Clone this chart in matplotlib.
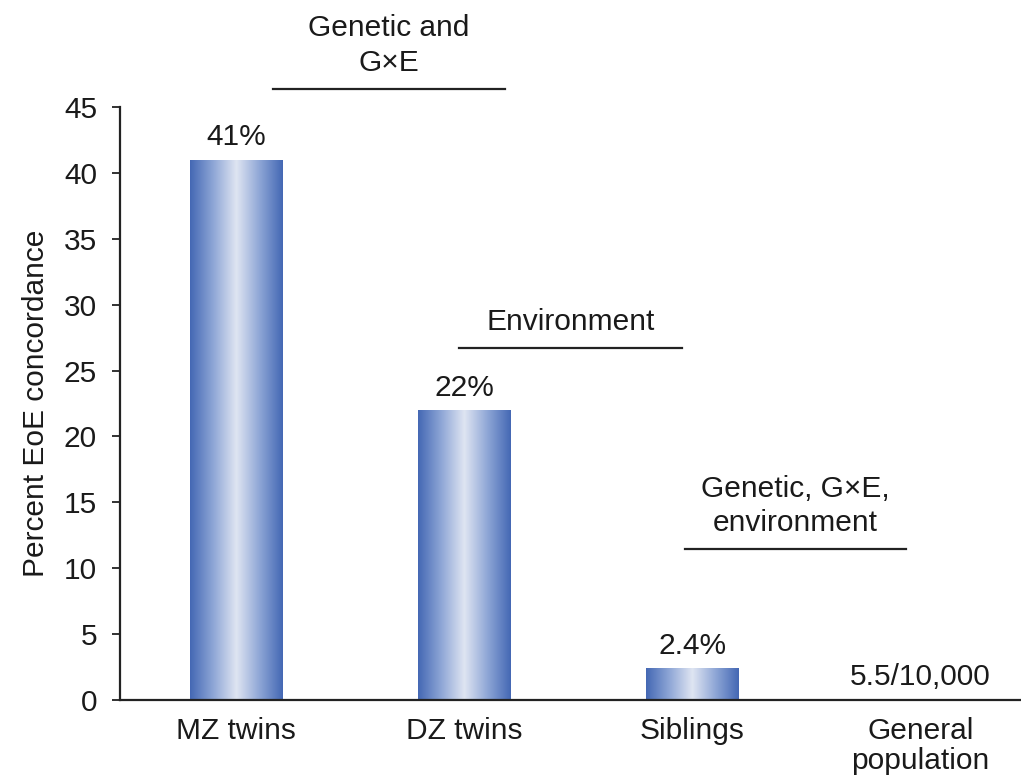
import numpy as np
import matplotlib
matplotlib.use("Agg")
import matplotlib.pyplot as plt
from matplotlib.colors import LinearSegmentedColormap

plt.rcParams['font.family'] = ['Liberation Sans', 'DejaVu Sans']

categories = ["MZ twins", "DZ twins", "Siblings", "General\npopulation"]
values = [41, 22, 2.4, 0.055]
value_labels = ["41%", "22%", "2.4%", "5.5/10,000"]
yticks = [0, 5, 10, 15, 20, 25, 30, 35, 40, 45]

brackets = [
    ("Genetic and\nG\u00d7E", 0.16, 1.18, 46.4),
    ("Environment", 0.975, 1.955, 26.7),
    ("Genetic, G\u00d7E,\nenvironment", 1.965, 2.935, 11.45),
]

FS = 21.5
TXT = "#1a1a1a"

fig = plt.figure(figsize=(10.21, 7.81), dpi=100)
ax = fig.add_axes([0.1175, 0.1037, 0.8825, 0.7593])

x = np.arange(len(categories))
width = 0.405

# cylinder-style horizontal gradient for the bars
cmap = LinearSegmentedColormap.from_list(
    "cyl", ["#4468b4", "#8ea6d6", "#dfe5f2", "#8ea6d6", "#4468b4"])
grad = np.linspace(0, 1, 256).reshape(1, -1)

for xi, v in zip(x, values):
    if v < 0.5:
        continue
    bar = ax.bar(xi, v, width=width, color="none", edgecolor="none", zorder=2)[0]
    im = ax.imshow(grad, cmap=cmap, aspect="auto",
                   extent=(xi - width / 2, xi + width / 2, 0, v), zorder=2)
    im.set_clip_path(bar)

for xi, v, lab in zip(x, values, value_labels):
    ax.text(xi, v + 0.65, lab, ha="center", va="bottom", fontsize=FS, color=TXT)

for text, x0, x1, y in brackets:
    ax.plot([x0, x1], [y, y], color="#222222", lw=1.6, clip_on=False)
    ax.text((x0 + x1) / 2, y + 0.9, text, ha="center", va="bottom",
            fontsize=FS, color=TXT, linespacing=1.3)

ax.set_xlim(-0.51, 3.44)
ax.set_ylim(0, 45)
ax.set_yticks(yticks)
ax.set_xticks(x)
ax.set_xticklabels(categories, fontsize=FS, color=TXT, linespacing=1.1)
ax.tick_params(axis="y", labelsize=FS, labelcolor=TXT, direction="out",
               length=6, width=1.3, color="#222222", pad=10.5)
ax.tick_params(axis="x", length=0, pad=12)
for s in ("top", "right"):
    ax.spines[s].set_visible(False)
for s in ("left", "bottom"):
    ax.spines[s].set_linewidth(1.6)
    ax.spines[s].set_color("#222222")

ax.set_ylabel("Percent EoE concordance", fontsize=FS, color=TXT, labelpad=10)

fig.savefig("out.png", dpi=100)
